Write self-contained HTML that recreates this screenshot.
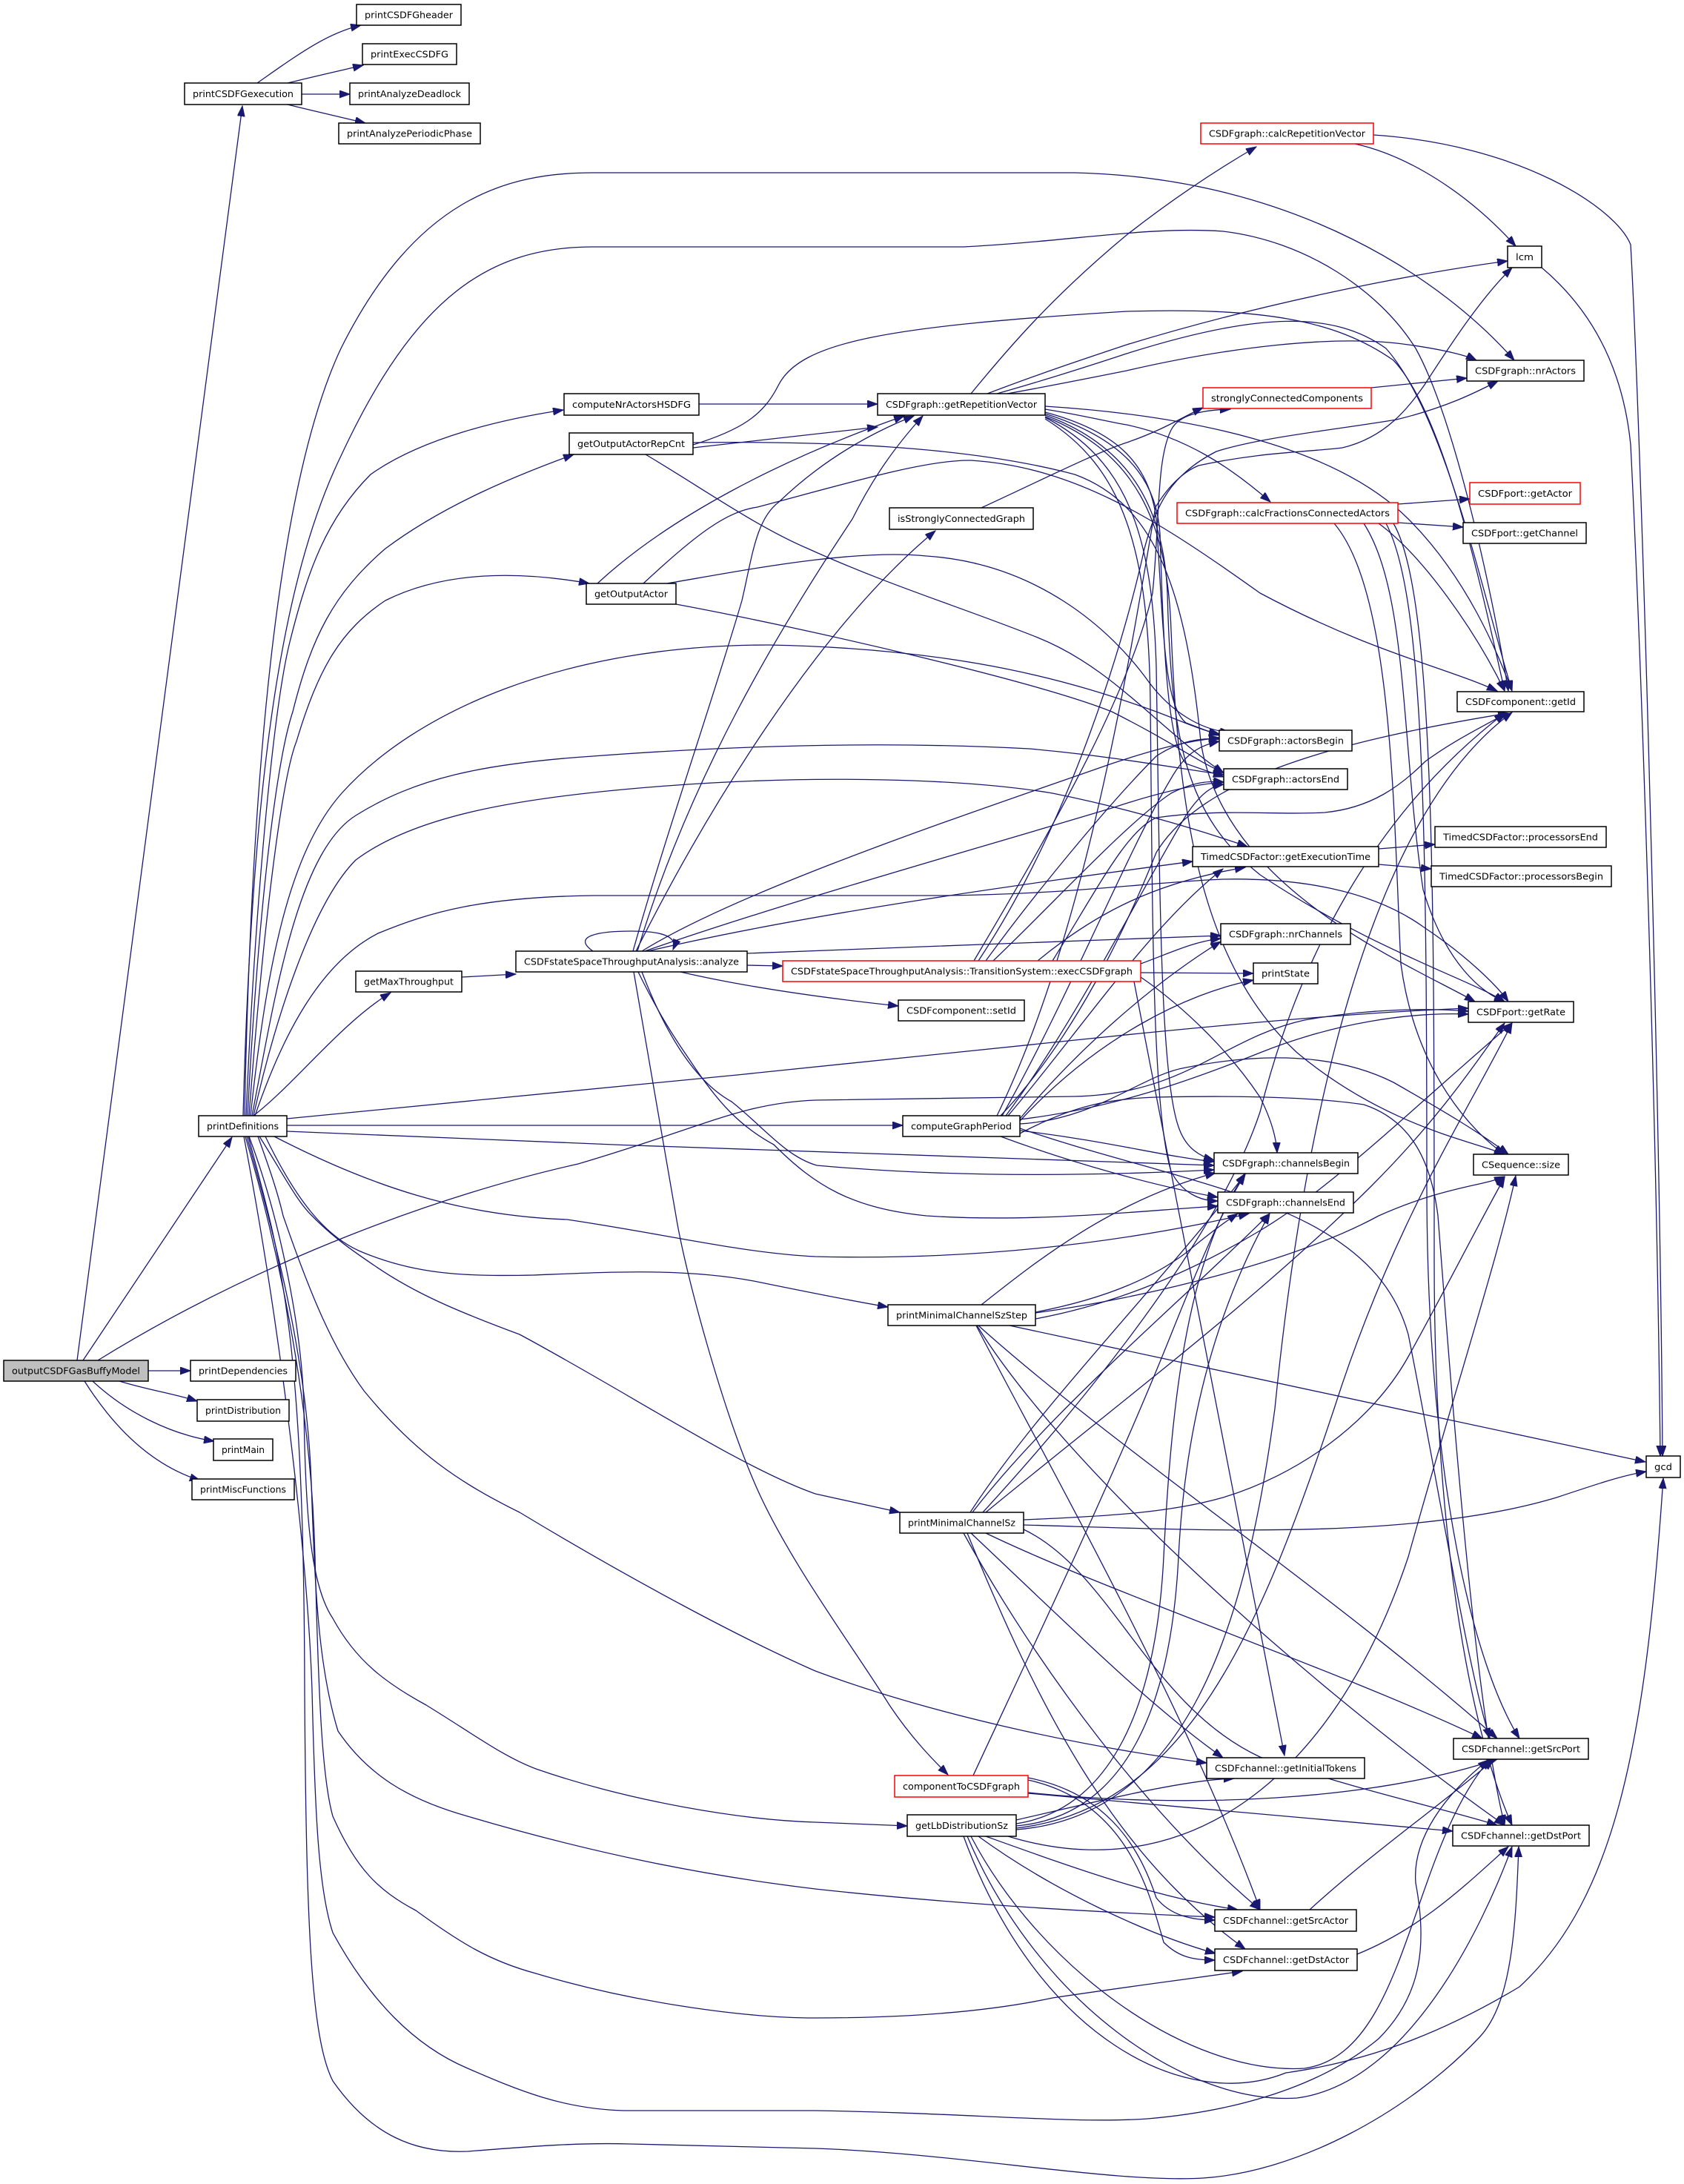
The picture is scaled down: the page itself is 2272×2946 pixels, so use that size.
<!DOCTYPE html>
<html>
<head>
<meta charset="utf-8">
<style>
html,body{margin:0;padding:0;background:#fff;}
svg{display:block;}
.e{fill:none;stroke:#191970;stroke-width:1.3;}
.n{fill:#fff;stroke:#000;stroke-width:1.5;}
.r{fill:#fff;stroke:#ff0000;stroke-width:1.5;}
.g{fill:#bfbfbf;stroke:#000;stroke-width:1.5;}
text{font-family:"DejaVu Sans","Liberation Sans",sans-serif;font-size:12.7px;fill:#000;}
</style>
</head>
<body>
<svg width="2272" height="2946" viewBox="0 0 2272 2946" xmlns="http://www.w3.org/2000/svg">
<defs>
<marker id="a" markerUnits="userSpaceOnUse" markerWidth="15" markerHeight="11" refX="14" refY="5" orient="auto">
<path d="M0,0 L14,5 L0,10 z" fill="#191970" stroke="#191970" stroke-width="1"/>
</marker>
</defs>
<rect width="2272" height="2946" fill="#fff"/>
<g class="edges">
<!-- printCSDFGexecution -->
<path class="e" marker-end="url(#a)" d="M347,112 C400,75 440,45 487,34"/>
<path class="e" marker-end="url(#a)" d="M388,112 C420,104 460,95 490,88"/>
<path class="e" marker-end="url(#a)" d="M407,127 L472,127"/>
<path class="e" marker-end="url(#a)" d="M388,141 C420,149 460,158 493,166"/>
<!-- outputCSDFGasBuffyModel -->
<path class="e" marker-end="url(#a)" d="M104,1835 L327,143"/>
<path class="e" marker-end="url(#a)" d="M112,1835 L313,1534"/>
<path class="e" marker-end="url(#a)" d="M132,1835 C350,1700 600,1610 780,1570 C950,1520 1000,1488 1100,1484 L1450,1479 C1600,1476 1650,1400 1760,1376 C1850,1360 1930,1360 1981,1364"/>
<path class="e" marker-end="url(#a)" d="M200,1849 L257,1849"/>
<path class="e" marker-end="url(#a)" d="M161,1863 C200,1875 235,1880 266,1890"/>
<path class="e" marker-end="url(#a)" d="M125,1863 C170,1905 230,1935 289,1944"/>
<path class="e" marker-end="url(#a)" d="M114,1863 C150,1920 200,1975 270,1997"/>
<!-- printDefinitions -->
<path class="e" marker-end="url(#a)" d="M330,1505 C340,1000 380,640 460,470 C560,270 680,233 800,233 L1450,233 C1750,240 1950,380 2043,486"/>
<path class="e" marker-end="url(#a)" d="M328,1505 C340,1050 380,780 460,615 C560,400 660,333 800,333 L1300,333 C1450,325 1550,305 1650,312 C1760,325 1860,390 1910,470 C1960,560 2010,780 2035,932"/>
<path class="e" marker-end="url(#a)" d="M332,1505 C345,1200 370,950 391,866 C415,770 440,700 500,640 C570,590 680,565 760,553"/>
<path class="e" marker-end="url(#a)" d="M334,1505 C350,1200 375,1020 395,960 C420,860 450,800 520,740 C600,680 700,640 774,613"/>
<path class="e" marker-end="url(#a)" d="M336,1505 C355,1250 380,1050 400,1000 C430,900 460,850 520,810 C600,770 700,770 795,787"/>
<path class="e" marker-end="url(#a)" d="M338,1505 C360,1300 390,1150 461,1070 C560,960 760,870 1037,870 C1300,875 1450,920 1560,960 C1600,975 1620,985 1645,990"/>
<path class="e" marker-end="url(#a)" d="M340,1505 C370,1350 400,1150 480,1100 C560,1050 650,1030 800,1020 C1000,1005 1200,1000 1389,1010 C1500,1020 1580,1035 1651,1045"/>
<path class="e" marker-end="url(#a)" d="M342,1505 C370,1380 420,1220 480,1160 C560,1100 700,1075 900,1060 C1100,1045 1300,1050 1420,1070 C1520,1090 1620,1120 1683,1142"/>
<path class="e" marker-end="url(#a)" d="M344,1505 C380,1400 430,1300 510,1259 C580,1230 650,1210 800,1208 L1274,1208 C1450,1206 1550,1190 1650,1186 C1750,1184 1850,1200 1920,1250 C1980,1290 2020,1330 2035,1351"/>
<path class="e" marker-end="url(#a)" d="M342,1505 C400,1460 460,1380 527,1339"/>
<path class="e" marker-end="url(#a)" d="M387,1509 C700,1480 1200,1430 1538,1394 C1700,1378 1850,1365 1981,1360"/>
<path class="e" marker-end="url(#a)" d="M387,1518 L1218,1518"/>
<path class="e" marker-end="url(#a)" d="M387,1526 C800,1545 1300,1560 1638,1572"/>
<path class="e" marker-end="url(#a)" d="M370,1533 C500,1600 620,1640 765,1645 C900,1665 1000,1690 1100,1695 C1300,1700 1500,1680 1685,1637"/>
<path class="e" marker-end="url(#a)" d="M358,1533 C400,1620 440,1670 491,1690 C560,1718 620,1722 720,1720 C820,1716 920,1710 1017,1728 C1100,1745 1150,1755 1198,1763"/>
<path class="e" marker-end="url(#a)" d="M350,1533 C380,1580 400,1620 421,1640 C450,1670 480,1690 505,1707 C560,1745 620,1770 701,1800 C850,1880 1000,1980 1100,2015 L1214,2040"/>
<path class="e" marker-end="url(#a)" d="M348,1533 C365,1580 375,1610 382,1640 C420,1750 450,1820 491,1876 C560,1960 620,2000 701,2040 C850,2130 1000,2210 1100,2254 C1250,2310 1450,2355 1628,2378"/>
<path class="e" marker-end="url(#a)" d="M336,1533 C380,1650 408,1800 410,1900 C412,2050 420,2140 449,2183 C480,2240 520,2270 575,2300 C640,2340 680,2370 723,2386 C850,2430 1000,2455 1100,2458 L1224,2463"/>
<path class="e" marker-end="url(#a)" d="M333,1533 C380,1700 415,1850 420,2000 C425,2150 430,2250 456,2335 C500,2400 560,2430 631,2450 C800,2500 950,2530 1100,2548 C1300,2570 1500,2580 1639,2586"/>
<path class="e" marker-end="url(#a)" d="M331,1533 C380,1700 420,1900 425,2100 C430,2300 435,2400 449,2450 C480,2520 510,2550 561,2577 C620,2620 660,2645 723,2662 C850,2700 1000,2722 1100,2722 C1250,2722 1350,2710 1420,2695 C1520,2680 1600,2670 1676,2659"/>
<path class="e" marker-end="url(#a)" d="M329,1533 C380,1800 415,2100 421,2280 C425,2450 430,2550 449,2607 C500,2700 560,2760 631,2790 C700,2820 760,2845 842,2847 L1100,2847 C1300,2850 1450,2865 1548,2858 C1700,2845 1800,2800 1860,2750 C1920,2690 1925,2620 1910,2540 C1905,2480 1950,2420 2008,2374"/>
<path class="e" marker-end="url(#a)" d="M335,1533 C380,1700 410,1800 411,2280 C413,2600 420,2750 449,2807 C500,2880 560,2905 631,2902 C720,2895 780,2890 850,2892 L1100,2898 C1300,2905 1500,2945 1623,2938 C1750,2930 1900,2850 1997,2747 C2040,2700 2045,2600 2049,2491"/>
<!-- analyze -->
<path class="e" marker-end="url(#a)" d="M800,1283 C770,1262 810,1256 852,1256 C895,1256 915,1264 908,1281"/>
<path class="e" marker-end="url(#a)" d="M1008,1302 L1056,1303"/>
<path class="e" marker-end="url(#a)" d="M1008,1286 C1200,1280 1450,1268 1647,1262"/>
<path class="e" marker-end="url(#a)" d="M918,1311 C1000,1330 1100,1345 1212,1357"/>
<path class="e" marker-end="url(#a)" d="M854,1283 C900,1120 960,950 1001,810 C1015,750 1020,700 1051,677 C1100,630 1160,590 1233,561"/>
<path class="e" marker-end="url(#a)" d="M860,1283 C930,1050 1050,850 1150,700 C1180,640 1210,600 1245,561"/>
<path class="e" marker-end="url(#a)" d="M858,1283 C950,1100 1100,850 1262,716"/>
<path class="e" marker-end="url(#a)" d="M866,1283 C1000,1200 1300,1100 1500,1030 C1560,1010 1600,1000 1645,995"/>
<path class="e" marker-end="url(#a)" d="M870,1283 C1050,1220 1300,1150 1500,1090 C1560,1070 1610,1058 1651,1055"/>
<path class="e" marker-end="url(#a)" d="M874,1283 C1100,1230 1400,1190 1609,1162"/>
<path class="e" marker-end="url(#a)" d="M855,1311 L912,1640 C925,1720 975,1900 1017,1998 C1060,2100 1150,2220 1200,2300 C1230,2345 1260,2375 1279,2394"/>
<path class="e" marker-end="url(#a)" d="M866,1311 C900,1400 940,1460 987,1486 C1030,1520 1060,1560 1102,1572 C1300,1590 1500,1585 1638,1578"/>
<path class="e" marker-end="url(#a)" d="M861,1311 C890,1370 910,1400 930,1429 C970,1490 1000,1520 1044,1544 C1100,1600 1150,1630 1250,1640 C1400,1650 1550,1632 1643,1627"/>
<path class="e" marker-end="url(#a)" d="M623,1318 L696,1314"/>
<!-- getRepetitionVector -->
<path class="e" marker-end="url(#a)" d="M1310,531 C1360,470 1420,400 1520,317 C1580,270 1640,230 1695,198"/>
<path class="e" marker-end="url(#a)" d="M1332,531 C1400,505 1460,485 1520,465 C1700,410 1900,370 2034,352"/>
<path class="e" marker-end="url(#a)" d="M1359,531 C1420,520 1470,510 1520,500 C1650,470 1800,450 1900,465 C1950,472 1980,480 1992,486"/>
<path class="e" marker-end="url(#a)" d="M1345,531 C1420,510 1480,490 1520,477 C1700,420 1800,420 1870,470 C1950,560 2000,800 2040,932"/>
<path class="e" marker-end="url(#a)" d="M1410,552 C1460,560 1500,570 1520,573 C1600,590 1660,630 1714,677"/>
<path class="e" marker-end="url(#a)" d="M1410,556 C1500,580 1550,620 1560,700 C1570,850 1570,950 1600,975 L1645,992"/>
<path class="e" marker-end="url(#a)" d="M1410,558 C1510,590 1560,640 1565,720 C1570,880 1575,1000 1600,1030 L1651,1048"/>
<path class="e" marker-end="url(#a)" d="M1410,560 C1520,600 1570,680 1575,800 C1580,1000 1600,1100 1700,1180 C1850,1280 1980,1320 2030,1351"/>
<path class="e" marker-end="url(#a)" d="M1410,562 C1530,610 1575,700 1580,850 C1590,1100 1620,1300 1750,1420 C1870,1520 1990,1540 2030,1557"/>
<path class="e" marker-end="url(#a)" d="M1410,563 C1520,620 1555,720 1560,900 C1565,1200 1565,1450 1590,1520 C1600,1550 1620,1560 1638,1565"/>
<path class="e" marker-end="url(#a)" d="M1410,565 C1515,630 1550,740 1552,950 C1555,1250 1555,1500 1580,1580 C1595,1610 1620,1620 1643,1620"/>
<path class="e" marker-end="url(#a)" d="M1410,548 C1600,560 1800,600 1900,700 C1980,780 2020,880 2040,932"/>
<!-- misc -->
<path class="e" marker-end="url(#a)" d="M1850,523 L1979,510"/>
<path class="e" marker-end="url(#a)" d="M1324,685 C1400,650 1480,610 1520,597 C1570,580 1600,560 1623,550"/>
<path class="e" marker-end="url(#a)" d="M1314,1296 C1400,1150 1520,950 1555,800 C1565,700 1560,620 1580,580 C1590,560 1620,553 1660,552"/>
<path class="e" marker-end="url(#a)" d="M1886,680 L1983,673"/>
<path class="e" marker-end="url(#a)" d="M1886,705 L1974,711"/>
<path class="e" marker-end="url(#a)" d="M1860,706 C1920,750 1990,850 2030,932"/>
<path class="e" marker-end="url(#a)" d="M1840,706 C1900,800 1890,1000 1920,1200 C1950,1300 2000,1340 2030,1351"/>
<path class="e" marker-end="url(#a)" d="M1800,706 C1880,800 1880,1100 1890,1300 C1910,1450 1990,1530 2030,1557"/>
<path class="e" marker-end="url(#a)" d="M1870,706 C1920,800 1925,1100 1925,1600 C1925,2000 1990,2250 2050,2345"/>
<path class="e" marker-end="url(#a)" d="M1880,706 C1935,800 1935,1200 1935,1700 C1935,2100 1990,2350 2040,2462"/>
<path class="e" marker-end="url(#a)" d="M1860,1145 L1936,1139"/>
<path class="e" marker-end="url(#a)" d="M1860,1166 L1931,1172"/>
<!-- execCSDFgraph -->
<path class="e" marker-end="url(#a)" d="M1539,1312 L1691,1313"/>
<path class="e" marker-end="url(#a)" d="M1539,1300 C1580,1285 1610,1270 1647,1266"/>
<path class="e" marker-end="url(#a)" d="M1420,1296 C1480,1200 1520,1120 1560,1103 C1650,1090 1720,1100 1787,1096 C1850,1090 1890,1060 1923,1027 C1960,1000 2000,980 2033,962"/>
<path class="e" marker-end="url(#a)" d="M1330,1296 C1400,1200 1500,1080 1560,1020 C1590,1000 1620,995 1645,997"/>
<path class="e" marker-end="url(#a)" d="M1340,1296 C1420,1220 1520,1110 1580,1070 C1610,1055 1630,1053 1651,1055"/>
<path class="e" marker-end="url(#a)" d="M1320,1296 C1450,1100 1520,850 1544,740 C1560,680 1580,640 1641,609 C1700,590 1800,580 1884,566 C1950,550 1990,530 2021,514"/>
<path class="e" marker-end="url(#a)" d="M1400,1296 C1480,1230 1560,1190 1680,1170"/>
<path class="e" marker-end="url(#a)" d="M1530,1324 L1733,2368"/>
<path class="e" marker-end="url(#a)" d="M1539,1318 C1600,1360 1660,1420 1700,1480 C1715,1510 1722,1535 1723,1555"/>
<!-- computeGraphPeriod -->
<path class="e" marker-end="url(#a)" d="M1350,1505 C1450,1400 1520,1250 1560,1150 C1620,1050 1800,1000 2035,962"/>
<path class="e" marker-end="url(#a)" d="M1345,1505 C1470,1250 1530,850 1559,684 C1580,650 1600,635 1617,628 C1700,610 1760,610 1811,604 C1870,590 1900,550 1922,519 C1960,460 2000,400 2040,361"/>
<path class="e" marker-end="url(#a)" d="M1352,1505 C1440,1350 1520,1150 1580,1050 C1600,1015 1620,1005 1645,1000"/>
<path class="e" marker-end="url(#a)" d="M1357,1505 C1450,1380 1540,1200 1600,1100 C1620,1070 1635,1060 1651,1058"/>
<path class="e" marker-end="url(#a)" d="M1360,1505 C1450,1400 1550,1250 1650,1172"/>
<path class="e" marker-end="url(#a)" d="M1376,1509 C1450,1420 1550,1330 1647,1270"/>
<path class="e" marker-end="url(#a)" d="M1376,1512 C1480,1400 1600,1340 1691,1322"/>
<path class="e" marker-end="url(#a)" d="M1376,1510 C1500,1495 1600,1460 1700,1420 C1800,1380 1900,1365 1981,1368"/>
<path class="e" marker-end="url(#a)" d="M1376,1516 C1480,1510 1540,1450 1600,1440 C1700,1420 1800,1420 1880,1460 C1950,1500 2000,1530 2035,1557"/>
<path class="e" marker-end="url(#a)" d="M1376,1525 C1500,1540 1570,1560 1638,1567"/>
<path class="e" marker-end="url(#a)" d="M1350,1533 C1450,1570 1560,1600 1643,1615"/>
<path class="e" marker-end="url(#a)" d="M1376,1529 C1450,1490 1500,1482 1560,1480 C1650,1478 1760,1478 1840,1490 C1900,1510 1930,1560 1940,1640 C1960,1900 1990,2300 2030,2462"/>
<path class="e" marker-end="url(#a)" d="M1376,1522 C1600,1600 1850,1620 1900,1800 C1940,2000 1980,2250 2010,2345"/>
<!-- printMinimalChannelSzStep -->
<path class="e" marker-end="url(#a)" d="M1324,1760 C1400,1700 1500,1620 1640,1582"/>
<path class="e" marker-end="url(#a)" d="M1397,1770 C1500,1750 1560,1720 1600,1690 C1630,1665 1650,1650 1670,1637"/>
<path class="e" marker-end="url(#a)" d="M1397,1771 C1550,1750 1750,1700 1860,1640 C1950,1600 2000,1600 2030,1587"/>
<path class="e" marker-end="url(#a)" d="M1397,1779 C1500,1760 1600,1720 1700,1660 C1800,1600 1900,1500 2040,1380"/>
<path class="e" marker-end="url(#a)" d="M1362,1788 L2220,1972"/>
<path class="e" marker-end="url(#a)" d="M1317,1788 C1400,1950 1600,2300 1700,2576"/>
<path class="e" marker-end="url(#a)" d="M1320,1788 C1500,1950 1800,2150 2020,2345"/>
<path class="e" marker-end="url(#a)" d="M1318,1788 C1450,2000 1800,2300 2030,2462"/>
<!-- printMinimalChannelSz -->
<path class="e" marker-end="url(#a)" d="M1309,2040 C1400,1900 1550,1750 1680,1584"/>
<path class="e" marker-end="url(#a)" d="M1312,2040 C1420,1900 1600,1750 1713,1637"/>
<path class="e" marker-end="url(#a)" d="M1330,2040 C1500,1900 1700,1750 1850,1600 C1950,1500 2000,1420 2030,1380"/>
<path class="e" marker-end="url(#a)" d="M1326,2040 C1500,1850 1650,1650 1700,1500 C1750,1300 1850,1100 2030,962"/>
<path class="e" marker-end="url(#a)" d="M1381,2057 C1600,2063 1900,2080 2100,2020 C2160,2000 2190,1990 2221,1985"/>
<path class="e" marker-end="url(#a)" d="M1381,2050 C1500,2045 1580,2040 1650,2020 C1750,1990 1850,1920 1900,1830 C1950,1740 1990,1660 2030,1588"/>
<path class="e" marker-end="url(#a)" d="M1300,2068 C1400,2250 1550,2450 1700,2576"/>
<path class="e" marker-end="url(#a)" d="M1305,2068 C1400,2300 1500,2500 1680,2629"/>
<path class="e" marker-end="url(#a)" d="M1330,2068 C1500,2150 1800,2250 2000,2345"/>
<path class="e" marker-end="url(#a)" d="M1381,2063 C1500,2120 1550,2300 1700,2370 C1850,2420 1950,2440 2020,2462"/>
<path class="e" marker-end="url(#a)" d="M1310,2068 C1450,2200 1550,2300 1650,2371"/>
<!-- getLbDistributionSz -->
<path class="e" marker-end="url(#a)" d="M1371,2455 C1480,2430 1600,2400 1665,2399"/>
<path class="e" marker-end="url(#a)" d="M1371,2460 C1500,2440 1560,2300 1570,2100 C1580,1900 1600,1700 1680,1583"/>
<path class="e" marker-end="url(#a)" d="M1371,2463 C1520,2450 1580,2300 1590,2100 C1600,1900 1650,1750 1713,1637"/>
<path class="e" marker-end="url(#a)" d="M1371,2466 C1600,2440 1700,2200 1800,1900 C1880,1650 1980,1500 2040,1380"/>
<path class="e" marker-end="url(#a)" d="M1371,2468 C1600,2450 1680,2200 1720,1900 C1760,1500 1850,1100 2040,961"/>
<path class="e" marker-end="url(#a)" d="M1360,2477 C1600,2550 1800,2400 1900,2100 C1970,1850 2020,1700 2045,1586"/>
<path class="e" marker-end="url(#a)" d="M1330,2477 C1450,2520 1560,2560 1670,2576"/>
<path class="e" marker-end="url(#a)" d="M1320,2477 C1420,2550 1550,2610 1640,2635"/>
<path class="e" marker-end="url(#a)" d="M1310,2477 C1400,2650 1600,2800 1760,2790 C1900,2770 1900,2500 2010,2373"/>
<path class="e" marker-end="url(#a)" d="M1305,2477 C1400,2700 1600,2840 1750,2830 C1900,2810 2000,2600 2040,2491"/>
<path class="e" marker-end="url(#a)" d="M1300,2477 C1400,2750 1600,2850 1735,2796 C1850,2780 1950,2740 2050,2680 C2180,2560 2220,2350 2244,1994"/>
<!-- componentToCSDFgraph -->
<path class="e" marker-end="url(#a)" d="M1313,2395 C1380,2250 1500,2000 1580,1800 C1620,1700 1650,1630 1680,1584"/>
<path class="e" marker-end="url(#a)" d="M1387,2398 C1500,2420 1540,2500 1560,2560 C1580,2585 1610,2590 1639,2590"/>
<path class="e" marker-end="url(#a)" d="M1387,2401 C1520,2430 1550,2550 1570,2620 C1590,2640 1610,2644 1639,2644"/>
<path class="e" marker-end="url(#a)" d="M1387,2418 C1600,2440 1850,2430 2020,2373"/>
<path class="e" marker-end="url(#a)" d="M1387,2419 L1960,2470"/>
<path class="e" marker-end="url(#a)" d="M1767,2576 C1850,2500 1950,2430 2015,2374"/>
<path class="e" marker-end="url(#a)" d="M1831,2636 C1920,2600 1980,2540 2035,2491"/>
<!-- gcd / lcm -->
<path class="e" marker-end="url(#a)" d="M1853,182 C2050,195 2180,280 2200,330 C2215,600 2240,1500 2243,1964"/>
<path class="e" marker-end="url(#a)" d="M2080,361 C2150,420 2190,500 2200,600 C2215,900 2235,1500 2240,1964"/>
<path class="e" marker-end="url(#a)" d="M1828,194 C1900,210 1980,260 2045,332"/>
<!-- getOutputActorRepCnt / computeNrActorsHSDFG / getOutputActor -->
<path class="e" marker-end="url(#a)" d="M935,604 L1184,576"/>
<path class="e" marker-end="url(#a)" d="M935,600 C1000,580 1030,560 1050,520 C1080,460 1200,440 1520,420 C1700,415 1800,430 1880,486 C1950,560 2000,800 2030,932"/>
<path class="e" marker-end="url(#a)" d="M935,597 C1100,595 1300,600 1450,640 C1560,680 1600,800 1620,1000 C1650,1200 1900,1300 1990,1351"/>
<path class="e" marker-end="url(#a)" d="M871,613 C950,660 1020,710 1090,740 C1200,790 1300,820 1400,860 C1500,900 1560,980 1651,1043"/>
<path class="e" marker-end="url(#a)" d="M943,545 L1184,545"/>
<path class="e" marker-end="url(#a)" d="M806,787 C900,700 1050,620 1220,561"/>
<path class="e" marker-end="url(#a)" d="M868,787 C940,720 980,690 1022,684 C1150,650 1250,620 1310,621 C1450,630 1560,700 1700,800 C1850,880 1950,900 2020,932"/>
<path class="e" marker-end="url(#a)" d="M900,787 C1000,770 1150,740 1250,750 C1400,760 1500,850 1550,920 C1580,960 1620,985 1660,988"/>
<path class="e" marker-end="url(#a)" d="M912,815 C1100,850 1400,920 1500,960 C1580,1000 1620,1030 1651,1042"/>
</g>
<g class="nodes">
<rect class="n" x="481" y="6" width="141" height="28"/><text x="492" y="24.5" textLength="119" lengthAdjust="spacingAndGlyphs">printCSDFGheader</text>
<rect class="n" x="489" y="59" width="127" height="28"/><text x="500" y="77.5" textLength="105" lengthAdjust="spacingAndGlyphs">printExecCSDFG</text>
<rect class="n" x="249" y="112" width="158" height="29"/><text x="260" y="131" textLength="136" lengthAdjust="spacingAndGlyphs">printCSDFGexecution</text>
<rect class="n" x="472" y="112" width="161" height="29"/><text x="483" y="131" textLength="139" lengthAdjust="spacingAndGlyphs">printAnalyzeDeadlock</text>
<rect class="n" x="457" y="166" width="191" height="28"/><text x="468" y="184.5" textLength="169" lengthAdjust="spacingAndGlyphs">printAnalyzePeriodicPhase</text>
<rect class="r" x="1620" y="166" width="233" height="28"/><text x="1631" y="184.5" textLength="211" lengthAdjust="spacingAndGlyphs">CSDFgraph::calcRepetitionVector</text>
<rect class="n" x="2034" y="332" width="46" height="29"/><text x="2045" y="351" textLength="24" lengthAdjust="spacingAndGlyphs">lcm</text>
<rect class="n" x="1979" y="486" width="158" height="28"/><text x="1990" y="504.5" textLength="136" lengthAdjust="spacingAndGlyphs">CSDFgraph::nrActors</text>
<rect class="n" x="761" y="531" width="182" height="29"/><text x="772" y="550" textLength="160" lengthAdjust="spacingAndGlyphs">computeNrActorsHSDFG</text>
<rect class="n" x="1184" y="531" width="226" height="29"/><text x="1195" y="550" textLength="204" lengthAdjust="spacingAndGlyphs">CSDFgraph::getRepetitionVector</text>
<rect class="r" x="1623" y="523" width="227" height="28"/><text x="1634" y="541.5" textLength="205" lengthAdjust="spacingAndGlyphs">stronglyConnectedComponents</text>
<rect class="n" x="768" y="584" width="167" height="29"/><text x="779" y="603" textLength="145" lengthAdjust="spacingAndGlyphs">getOutputActorRepCnt</text>
<rect class="r" x="1983" y="651" width="149" height="29"/><text x="1994" y="670" textLength="127" lengthAdjust="spacingAndGlyphs">CSDFport::getActor</text>
<rect class="r" x="1588" y="678" width="298" height="28"/><text x="1599" y="696.5" textLength="276" lengthAdjust="spacingAndGlyphs">CSDFgraph::calcFractionsConnectedActors</text>
<rect class="n" x="1200" y="685" width="194" height="29"/><text x="1211" y="704" textLength="172" lengthAdjust="spacingAndGlyphs">isStronglyConnectedGraph</text>
<rect class="n" x="1974" y="705" width="166" height="28"/><text x="1985" y="723.5" textLength="144" lengthAdjust="spacingAndGlyphs">CSDFport::getChannel</text>
<rect class="n" x="791" y="787" width="121" height="28"/><text x="802" y="805.5" textLength="99" lengthAdjust="spacingAndGlyphs">getOutputActor</text>
<rect class="n" x="1966" y="933" width="171" height="27"/><text x="1977" y="951" textLength="149" lengthAdjust="spacingAndGlyphs">CSDFcomponent::getId</text>
<rect class="n" x="1645" y="985" width="179" height="28"/><text x="1656" y="1003.5" textLength="157" lengthAdjust="spacingAndGlyphs">CSDFgraph::actorsBegin</text>
<rect class="n" x="1651" y="1037" width="167" height="28"/><text x="1662" y="1055.5" textLength="145" lengthAdjust="spacingAndGlyphs">CSDFgraph::actorsEnd</text>
<rect class="n" x="1936" y="1115" width="231" height="28"/><text x="1947" y="1133.5" textLength="209" lengthAdjust="spacingAndGlyphs">TimedCSDFactor::processorsEnd</text>
<rect class="n" x="1609" y="1142" width="251" height="27"/><text x="1620" y="1160" textLength="229" lengthAdjust="spacingAndGlyphs">TimedCSDFactor::getExecutionTime</text>
<rect class="n" x="1931" y="1168" width="243" height="28"/><text x="1942" y="1186.5" textLength="221" lengthAdjust="spacingAndGlyphs">TimedCSDFactor::processorsBegin</text>
<rect class="n" x="1647" y="1246" width="175" height="28"/><text x="1658" y="1264.5" textLength="153" lengthAdjust="spacingAndGlyphs">CSDFgraph::nrChannels</text>
<rect class="n" x="696" y="1283" width="312" height="28"/><text x="707" y="1301.5" textLength="290" lengthAdjust="spacingAndGlyphs">CSDFstateSpaceThroughputAnalysis::analyze</text>
<rect class="r" x="1056" y="1296" width="483" height="28"/><text x="1067" y="1314.5" textLength="461" lengthAdjust="spacingAndGlyphs">CSDFstateSpaceThroughputAnalysis::TransitionSystem::execCSDFgraph</text>
<rect class="n" x="1691" y="1299" width="87" height="28"/><text x="1702" y="1317.5" textLength="65" lengthAdjust="spacingAndGlyphs">printState</text>
<rect class="n" x="480" y="1310" width="143" height="28"/><text x="491" y="1328.5" textLength="121" lengthAdjust="spacingAndGlyphs">getMaxThroughput</text>
<rect class="n" x="1212" y="1349" width="170" height="28"/><text x="1223" y="1367.5" textLength="148" lengthAdjust="spacingAndGlyphs">CSDFcomponent::setId</text>
<rect class="n" x="1981" y="1351" width="142" height="28"/><text x="1992" y="1369.5" textLength="120" lengthAdjust="spacingAndGlyphs">CSDFport::getRate</text>
<rect class="n" x="268" y="1505" width="119" height="28"/><text x="279" y="1523.5" textLength="97" lengthAdjust="spacingAndGlyphs">printDefinitions</text>
<rect class="n" x="1218" y="1505" width="158" height="28"/><text x="1229" y="1523.5" textLength="136" lengthAdjust="spacingAndGlyphs">computeGraphPeriod</text>
<rect class="n" x="1638" y="1555" width="194" height="28"/><text x="1649" y="1573.5" textLength="172" lengthAdjust="spacingAndGlyphs">CSDFgraph::channelsBegin</text>
<rect class="n" x="1988" y="1557" width="128" height="28"/><text x="1999" y="1575.5" textLength="106" lengthAdjust="spacingAndGlyphs">CSequence::size</text>
<rect class="n" x="1643" y="1608" width="183" height="28"/><text x="1654" y="1626.5" textLength="161" lengthAdjust="spacingAndGlyphs">CSDFgraph::channelsEnd</text>
<rect class="n" x="1198" y="1760" width="199" height="28"/><text x="1209" y="1778.5" textLength="177" lengthAdjust="spacingAndGlyphs">printMinimalChannelSzStep</text>
<rect class="g" x="5" y="1835" width="195" height="28"/><text x="16" y="1853.5" textLength="173" lengthAdjust="spacingAndGlyphs">outputCSDFGasBuffyModel</text>
<rect class="n" x="257" y="1835" width="142" height="28"/><text x="268" y="1853.5" textLength="120" lengthAdjust="spacingAndGlyphs">printDependencies</text>
<rect class="n" x="266" y="1888" width="124" height="29"/><text x="277" y="1907" textLength="102" lengthAdjust="spacingAndGlyphs">printDistribution</text>
<rect class="n" x="288" y="1941" width="80" height="29"/><text x="299" y="1960" textLength="58" lengthAdjust="spacingAndGlyphs">printMain</text>
<rect class="n" x="259" y="1995" width="138" height="28"/><text x="270" y="2013.5" textLength="116" lengthAdjust="spacingAndGlyphs">printMiscFunctions</text>
<rect class="n" x="2221" y="1964" width="46" height="29"/><text x="2232" y="1983" textLength="24" lengthAdjust="spacingAndGlyphs">gcd</text>
<rect class="n" x="1214" y="2040" width="167" height="28"/><text x="1225" y="2058.5" textLength="145" lengthAdjust="spacingAndGlyphs">printMinimalChannelSz</text>
<rect class="n" x="1961" y="2345" width="182" height="28"/><text x="1972" y="2363.5" textLength="160" lengthAdjust="spacingAndGlyphs">CSDFchannel::getSrcPort</text>
<rect class="n" x="1628" y="2371" width="213" height="28"/><text x="1639" y="2389.5" textLength="191" lengthAdjust="spacingAndGlyphs">CSDFchannel::getInitialTokens</text>
<rect class="r" x="1207" y="2395" width="180" height="29"/><text x="1218" y="2414" textLength="158" lengthAdjust="spacingAndGlyphs">componentToCSDFgraph</text>
<rect class="n" x="1224" y="2448" width="147" height="29"/><text x="1235" y="2467" textLength="125" lengthAdjust="spacingAndGlyphs">getLbDistributionSz</text>
<rect class="n" x="1960" y="2462" width="184" height="28"/><text x="1971" y="2480.5" textLength="162" lengthAdjust="spacingAndGlyphs">CSDFchannel::getDstPort</text>
<rect class="n" x="1639" y="2576" width="191" height="29"/><text x="1650" y="2595" textLength="169" lengthAdjust="spacingAndGlyphs">CSDFchannel::getSrcActor</text>
<rect class="n" x="1639" y="2629" width="192" height="29"/><text x="1650" y="2648" textLength="170" lengthAdjust="spacingAndGlyphs">CSDFchannel::getDstActor</text>
</g>
</svg>
</body>
</html>
